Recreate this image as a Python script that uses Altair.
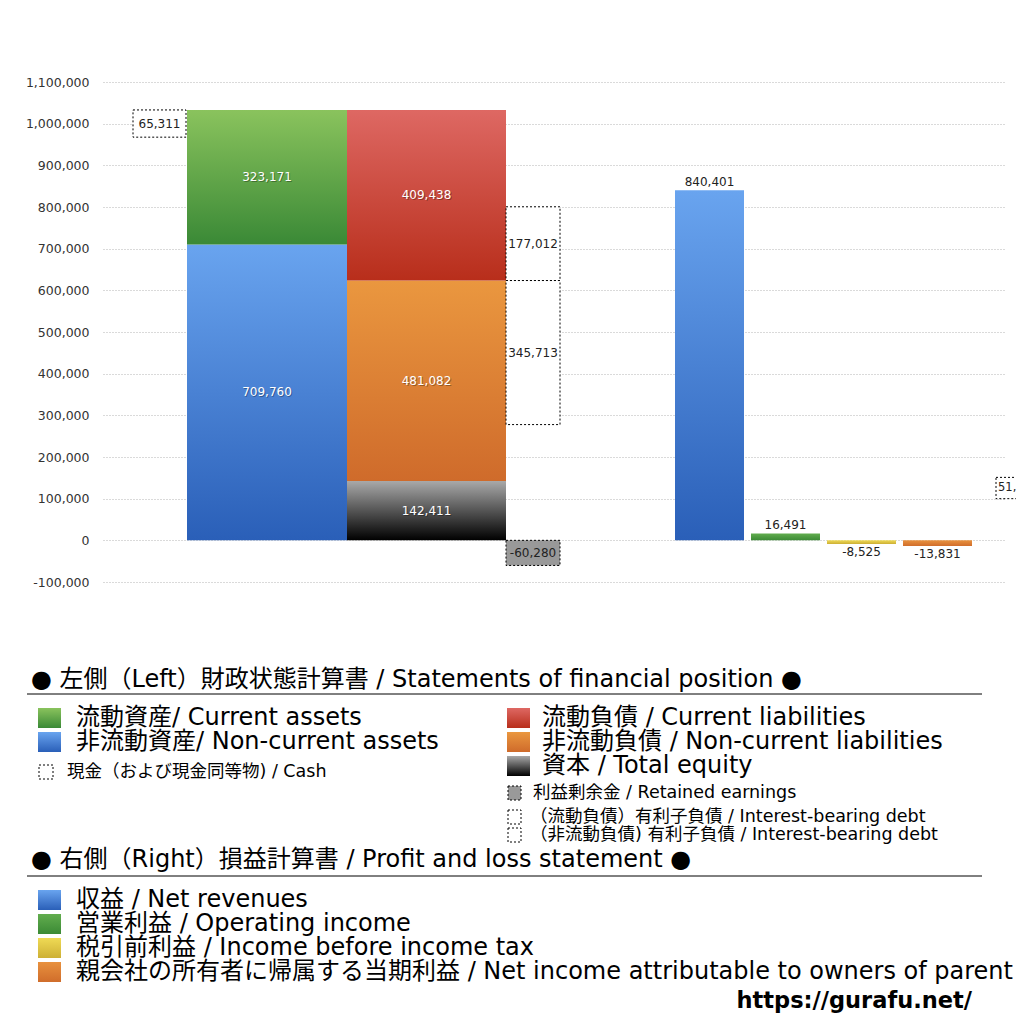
import altair as alt
import pandas as pd

FONT = "DejaVu Sans, Noto Sans CJK JP"

# ---------------- data ----------------
asset_names = ["非流動資産", "流動資産"]
asset_values = [709760, 323171]
liab_names = ["資本", "非流動負債", "流動負債"]
liab_values = [142411, 481082, 409438]
cash_value = 65311
retained_value = -60280
ib_current_value = 177012
ib_noncurrent_value = 345713
pl_names = ["収益", "営業利益", "税引前利益", "当期利益"]
pl_values = [840401, 16491, -8525, -13831]
extra_label = "51,1"
extra_bottom = 100000
extra_value = 51100

# ---------------- layout constants (plot-width units) ----------------
W, H = 903, 500
CASH_X = (30, 83)
ASSET_X = (84, 244)
LIAB_X = (244, 403)
SIDE_X = (403, 457)
PL_X0, PL_W, PL_STEP = 572, 69, 76
EXTRA_X = (893, 965)

def grad(top, bottom):
    return alt.Gradient(gradient="linear",
                        stops=[alt.GradientStop(color=top, offset=0),
                               alt.GradientStop(color=bottom, offset=1)],
                        x1=0, x2=0, y1=0, y2=1)

G_GREEN = grad("#8ac35d", "#3a8936")
G_BLUE = grad("#69a4ef", "#2a5fb8")
G_RED = grad("#de6863", "#b82e1b")
G_ORANGE = grad("#ea973f", "#cf6b2b")
G_BLACK = grad("#a9a9a9", "#000000")
G_PLGREEN = grad("#62ad4e", "#3b8a35")
G_YELLOW = grad("#efda55", "#cdb035")
G_PLORANGE = grad("#e8913e", "#d06d2b")

xs = alt.Scale(domain=[0, W], nice=False, zero=False)
ys = alt.Scale(domain=[-100000, 1100000], nice=False, zero=False)
yaxis = alt.Axis(values=list(range(-100000, 1100001, 100000)), title=None,
                 labelExpr="replace(format(datum.value, ','), '\u2212', '-')",
                 labelFont=FONT, labelFontSize=12.5, labelColor="#333333", labelPadding=14,
                 domain=False, ticks=False, grid=True, gridDash=[1, 2],
                 gridColor="#b4b4b4", gridWidth=1)

def X(f="x0"):
    return alt.X(f"{f}:Q", scale=xs, axis=None)

def Y(f="y0"):
    return alt.Y(f"{f}:Q", scale=ys, axis=yaxis)

# ---------------- build tables ----------------
rows = []
c = 0
for n, v, g in zip(asset_names, asset_values, [G_BLUE, G_GREEN]):
    rows.append(dict(name=n, v=v, x0=ASSET_X[0], x1=ASSET_X[1], y0=c, y1=c + v, g=g))
    c += v
assets_top = c
c = 0
for n, v, g in zip(liab_names, liab_values, [G_BLACK, G_ORANGE, G_RED]):
    rows.append(dict(name=n, v=v, x0=LIAB_X[0], x1=LIAB_X[1], y0=c, y1=c + v, g=g))
    c += v
noncur_top = liab_values[0] + liab_values[1]

pl_grads = [G_BLUE, G_PLGREEN, G_YELLOW, G_PLORANGE]
for i, (n, v, g) in enumerate(zip(pl_names, pl_values, pl_grads)):
    x0 = PL_X0 + i * PL_STEP
    rows.append(dict(name=n, v=v, x0=x0, x1=x0 + PL_W, y0=0, y1=v, g=g, pl=True))

layers = []

# grid / axis carrier (invisible)
axis_df = pd.DataFrame({"x0": [0], "y0": [0]})
layers.append(alt.Chart(axis_df).mark_point(opacity=0).encode(x=X(), y=Y()))

for r in rows:
    df = pd.DataFrame([{k: r[k] for k in ("name", "v", "x0", "x1", "y0", "y1")}])
    layers.append(alt.Chart(df).mark_rect(fill=r["g"]).encode(
        x=X(), x2="x1:Q", y=Y(), y2="y1:Q"))

# labels inside balance-sheet bars
bs = pd.DataFrame([r for r in rows if not r.get("pl")]).drop(columns=["g", "pl"], errors="ignore")
bs["xm"] = (bs["x0"] + bs["x1"]) / 2
bs["ym"] = (bs["y0"] + bs["y1"]) / 2
bs["t"] = bs["v"].map(lambda v: f"{v:,}")
layers.append(alt.Chart(bs).mark_text(font=FONT, fontSize=12, color="#000000", opacity=0.3,
                                      dx=1, dy=1).encode(x=X("xm"), y=Y("ym"), text="t:N"))
layers.append(alt.Chart(bs).mark_text(font=FONT, fontSize=12, color="#ffffff").encode(
    x=X("xm"), y=Y("ym"), text="t:N"))

# P&L labels
pl = pd.DataFrame([r for r in rows if r.get("pl")]).drop(columns=["g", "pl"])
pl["xm"] = (pl["x0"] + pl["x1"]) / 2
pl["t"] = pl["v"].map(lambda v: f"{v:,}")
layers.append(alt.Chart(pl[pl.v >= 0]).mark_text(font=FONT, fontSize=12, color="#222222",
                                                 baseline="bottom", dy=-1).encode(
    x=X("xm"), y=Y("y1"), text="t:N"))
layers.append(alt.Chart(pl[pl.v < 0]).mark_text(font=FONT, fontSize=12, color="#222222",
                                                baseline="top", dy=3).encode(
    x=X("xm"), y=Y("y1"), text="t:N"))

# dotted boxes
boxes = pd.DataFrame([
    dict(t=f"{cash_value:,}", x0=CASH_X[0], x1=CASH_X[1], y0=assets_top - cash_value, y1=assets_top, fill="#ffffff"),
    dict(t=f"{ib_current_value:,}", x0=SIDE_X[0], x1=SIDE_X[1], y0=noncur_top, y1=noncur_top + ib_current_value, fill="#ffffff"),
    dict(t=f"{ib_noncurrent_value:,}", x0=SIDE_X[0], x1=SIDE_X[1], y0=noncur_top - ib_noncurrent_value, y1=noncur_top, fill="#ffffff"),
    dict(t=f"{retained_value:,}", x0=SIDE_X[0], x1=SIDE_X[1], y0=retained_value, y1=0, fill="#999999"),
    dict(t=extra_label, x0=EXTRA_X[0], x1=EXTRA_X[1], y0=extra_bottom, y1=extra_bottom + extra_value, fill="#ffffff"),
])
boxes["xm"] = (boxes["x0"] + boxes["x1"]) / 2
boxes["ym"] = (boxes["y0"] + boxes["y1"]) / 2
layers.append(alt.Chart(boxes).mark_rect(stroke="#000000", strokeWidth=1, strokeDash=[2, 2]).encode(
    x=X(), x2="x1:Q", y=Y(), y2="y1:Q", fill=alt.Fill("fill:N", scale=None)))
main_boxes = boxes.iloc[:4]
layers.append(alt.Chart(main_boxes).mark_text(font=FONT, fontSize=12, color="#222222").encode(
    x=X("xm"), y=Y("ym"), text="t:N"))
layers.append(alt.Chart(boxes.iloc[4:]).mark_text(font=FONT, fontSize=11.5, color="#222222",
                                                  align="left", dx=2).encode(
    x=X("x0"), y=Y("ym"), text="t:N"))

# ---------------- legend section (pixel layout below the plot) ----------------
OX, OY = 103, 82  # plot origin on the page

one = pd.DataFrame({"k": [0]})

def txt(s, x, y, size, align="left", weight="normal"):
    return alt.Chart(pd.DataFrame({"t": [s]})).mark_text(
        font=FONT, fontSize=size, align=align, baseline="middle", color="#000000",
        fontWeight=weight).encode(x=alt.value(x - OX), y=alt.value(y - OY), text="t:N")

def sw(x0, y0, x1, y1, fill, dotted=False):
    kw = dict(fill=fill)
    if dotted:
        kw.update(stroke="#000000", strokeWidth=1, strokeDash=[2, 2])
    return alt.Chart(one).mark_rect(**kw).encode(
        x=alt.value(x0 - OX), x2=alt.value(x1 - OX), y=alt.value(y0 - OY), y2=alt.value(y1 - OY))

def hline(y):
    return alt.Chart(one).mark_rule(color="#000000", strokeWidth=1).encode(
        x=alt.value(27 - OX), x2=alt.value(982 - OX), y=alt.value(y - OY))

BIG, SMALL = 24, 17.5
leg = []
leg.append(txt("● 左側（Left）財政状態計算書 / Statements of financial position ●", 31, 680, BIG))
leg.append(hline(694))
leg += [sw(38, 708, 61, 728, G_GREEN), txt("流動資産/ Current assets", 76, 718, BIG)]
leg += [sw(38, 732, 61, 752, G_BLUE), txt("非流動資産/ Non-current assets", 76, 742, BIG)]
leg += [sw(39, 765, 53, 779, "#ffffff", True), txt("現金（および現金同等物) / Cash", 67, 772, SMALL)]
leg += [sw(507, 708, 530, 728, G_RED), txt("流動負債 /  Current liabilities", 542, 718, BIG)]
leg += [sw(507, 732, 530, 752, G_ORANGE), txt("非流動負債 / Non-current liabilities", 542, 742, BIG)]
leg += [sw(507, 756, 530, 776, G_BLACK), txt("資本 / Total equity", 542, 766, BIG)]
leg += [sw(508, 786, 521, 800, "#999999", True), txt("利益剰余金 / Retained earnings", 533, 793, SMALL)]
leg += [sw(508, 810, 521, 824, "#ffffff", True), txt("（流動負債）有利子負債 / Interest-bearing debt", 530, 817, SMALL)]
leg += [sw(508, 828, 521, 842, "#ffffff", True), txt("（非流動負債) 有利子負債 / Interest-bearing debt", 530, 835, SMALL)]
leg.append(txt("● 右側（Right）損益計算書 / Profit and loss statement ●", 31, 860, BIG))
leg.append(hline(876))
pl_leg = ["収益 / Net revenues", "営業利益 / Operating income", "税引前利益 / Income before income tax",
          "親会社の所有者に帰属する当期利益 / Net income attributable to owners of parent"]
for i, (s, g) in enumerate(zip(pl_leg, [G_BLUE, G_PLGREEN, G_YELLOW, G_PLORANGE])):
    yc = 900 + 24 * i
    leg += [sw(38, yc - 10, 61, yc + 10, g), txt(s, 76, yc, BIG)]
leg.append(txt("https://gurafu.net/", 972, 1001, 22.5, align="right", weight="bold"))

chart = alt.layer(*layers, *leg).properties(
    width=W, height=H,
    autosize=alt.AutoSizeParams(type="none"),
    padding={"left": 95, "top": 74, "right": 10, "bottom": 434},
).configure(font=FONT, view=alt.ViewConfig(stroke=None))

chart.save("out.html", embed_options={"renderer": "svg", "actions": False})
